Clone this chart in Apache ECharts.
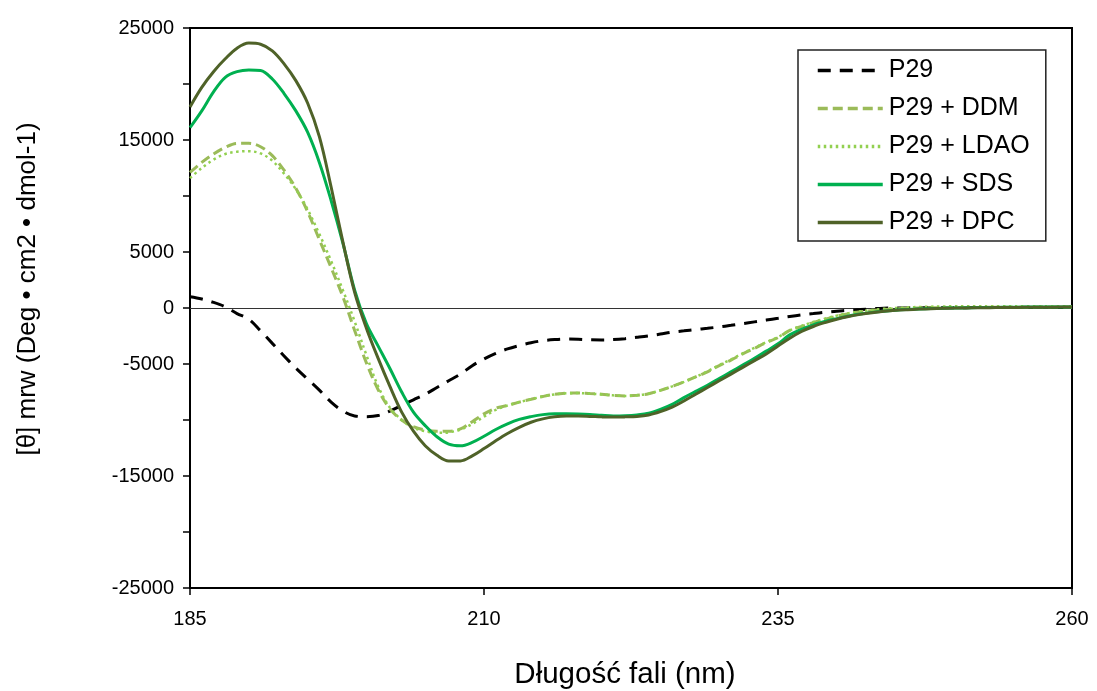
<!DOCTYPE html>
<html>
<head>
<meta charset="utf-8">
<script src="https://cdn.jsdelivr.net/npm/echarts@6/dist/echarts.min.js"></script>
<style>
  html, body { margin: 0; padding: 0; background: #fff; }
  #chart { width: 1097px; height: 691px; }
</style>
</head>
<body>
<div id="chart"></div>
<script>
// Wavelengths (nm), 1 nm steps
const wavelengths = [
  185,186,187,188,189,190,191,192,193,194,195,196,197,198,199,200,
  201,202,203,204,205,206,207,208,209,210,211,212,213,214,215,216,
  217,218,219,220,221,222,223,224,225,226,227,228,229,230,231,232,
  233,234,235,236,237,238,239,240,241,242,243,244,245,246,247,248,
  249,250,251,252,253,254,255,256,257,258,259,260
];

// Mean residue ellipticity for each sample
const p29 = [
  1000,800,500,100,-500,-1000,-2040,-3160,-4280,-5370,-6350,-7330,-8400,-9200,-9640,-9700,
  -9600,-9200,-8700,-8200,-7700,-7100,-6500,-5900,-5150,-4550,-4050,-3650,-3350,-3100,-2920,-2820,
  -2770,-2790,-2840,-2850,-2820,-2740,-2620,-2490,-2330,-2160,-2040,-1920,-1810,-1690,-1550,-1400,
  -1240,-1080,-920,-760,-620,-500,-380,-280,-200,-140,-70,-20,0,10,20,20,
  30,30,30,40,40,40,40,50,50,50,50,50
];

const p29DDM = [
  12100,13000,13750,14350,14700,14700,14400,13600,12300,10700,8600,6100,3600,1000,-2000,-4900,
  -7300,-9000,-10000,-10600,-10900,-11000,-11000,-10800,-10150,-9450,-8950,-8700,-8400,-8150,-7900,-7700,
  -7600,-7580,-7640,-7700,-7800,-7850,-7800,-7650,-7350,-7000,-6600,-6150,-5700,-5150,-4650,-4100,
  -3600,-3100,-2650,-2000,-1650,-1300,-1000,-720,-500,-340,-230,-140,-70,-20,0,20,
  30,40,50,50,60,60,70,70,80,80,80,80
];

const p29LDAO = [
  11600,12500,13250,13750,13950,14000,13800,13150,12000,10600,8800,6600,4200,1600,-1200,-4200,
  -7000,-8900,-10000,-10700,-11000,-11150,-11100,-10850,-10350,-9700,-9100,-8700,-8400,-8150,-7900,-7720,
  -7620,-7600,-7650,-7720,-7800,-7850,-7800,-7650,-7350,-7000,-6600,-6150,-5650,-5100,-4600,-4050,
  -3550,-3050,-2600,-2000,-1600,-1250,-950,-680,-460,-300,-170,-70,0,50,90,120,
  140,150,150,150,150,150,150,150,150,150,150,150
];

const p29SDS = [
  16100,17600,19300,20600,21100,21250,21200,20450,19150,17600,15700,13000,9600,5800,1600,-1400,
  -3400,-5400,-7500,-9300,-10500,-11500,-12150,-12300,-12000,-11450,-10850,-10350,-9950,-9700,-9520,-9450,
  -9450,-9460,-9500,-9580,-9640,-9620,-9550,-9400,-9050,-8600,-8000,-7450,-6900,-6300,-5700,-5100,
  -4500,-3850,-3200,-2400,-1900,-1500,-1200,-950,-720,-540,-390,-280,-200,-140,-90,-50,
  -20,0,20,40,50,60,70,80,90,90,100,100
];

const p29DPC = [
  17950,19700,21100,22250,23200,23650,23550,22950,21800,20300,18300,15300,10800,5900,1400,-1800,
  -4500,-7000,-9300,-11000,-12300,-13150,-13650,-13650,-13200,-12550,-11850,-11200,-10650,-10200,-9900,-9720,
  -9650,-9650,-9680,-9720,-9740,-9720,-9680,-9550,-9250,-8850,-8300,-7700,-7100,-6500,-5900,-5300,
  -4700,-4100,-3400,-2700,-2100,-1650,-1300,-1000,-760,-570,-420,-300,-210,-150,-100,-60,
  -30,-10,10,20,30,40,50,60,60,70,80,80
];

// Y tick values that carry a label
const yLabelled = [25000, 15000, 5000, 0, -5000, -15000, -25000];

const seriesNames = ['P29', 'P29 + DDM', 'P29 + LDAO', 'P29 + SDS', 'P29 + DPC'];
const seriesValues = [p29, p29DDM, p29LDAO, p29SDS, p29DPC];
const seriesStyles = [
  { color: '#000000', width: 3, type: [13, 9] },
  { color: '#9BBB59', width: 3, type: [10, 5] },
  { color: '#92D050', width: 2.5, type: [2.5, 3.5] },
  { color: '#00B050', width: 3, type: 'solid' },
  { color: '#4F6228', width: 3, type: 'solid' }
];

const FONT = '"Liberation Sans", Arial, sans-serif';

const series = seriesNames.map((name, i) => {
  const s = {
    name: name,
    type: 'line',
    data: wavelengths.map((w, j) => [w, seriesValues[i][j]]),
    showSymbol: false,
    symbol: 'none',
    smooth: 0.35,
    color: seriesStyles[i].color,
    lineStyle: {
      color: seriesStyles[i].color,
      width: seriesStyles[i].width,
      type: seriesStyles[i].type
    },
    emphasis: { disabled: true },
    z: 3 + i
  };
  if (i === 0) {
    // zero baseline
    s.markLine = {
      silent: true,
      symbol: 'none',
      label: { show: false },
      lineStyle: { color: '#333', width: 1, type: 'solid' },
      data: [{ yAxis: 0 }],
      z: 1
    };
  }
  return s;
});

const chart = echarts.init(document.getElementById('chart'), null, { renderer: 'canvas' });

chart.setOption({
  animation: false,
  backgroundColor: '#ffffff',
  textStyle: { fontFamily: FONT },
  grid: {
    left: 190, right: 25, top: 28, bottom: 103,
    outerBoundsMode: 'none',
    containLabel: false,
    show: true, borderColor: '#000', borderWidth: 2, backgroundColor: 'transparent'
  },
  xAxis: {
    type: 'value',
    min: 185, max: 260, interval: 25,
    name: 'Długość fali (nm)',
    nameLocation: 'middle',
    nameGap: 72,
    nameTextStyle: { fontSize: 29.5, color: '#000', fontFamily: FONT, padding: [0, 12, 0, 0] },
    axisLine: { show: true, onZero: false, lineStyle: { color: '#000', width: 2 } },
    axisTick: { show: true, inside: false, length: 7, lineStyle: { color: '#000', width: 1.5 } },
    axisLabel: { fontSize: 20, color: '#000', margin: 21, fontFamily: FONT },
    splitLine: { show: false }
  },
  yAxis: {
    type: 'value',
    min: -25000, max: 25000, interval: 5000,
    axisLine: { show: true, onZero: false, lineStyle: { color: '#000', width: 2 } },
    axisTick: { show: true, inside: false, length: 7, lineStyle: { color: '#000', width: 1.5 } },
    axisLabel: {
      fontSize: 20, color: '#000', margin: 16, fontFamily: FONT,
      formatter: v => (yLabelled.indexOf(v) >= 0 ? String(v) : '')
    },
    splitLine: { show: false }
  },
  legend: {
    orient: 'vertical',
    left: 798, top: 50,
    padding: [8, 16, 6, 18],
    itemWidth: 65, itemHeight: 22, itemGap: 13,
    borderColor: '#222', borderWidth: 1.5,
    backgroundColor: '#fff',
    itemStyle: { opacity: 0 },
    lineStyle: { width: 3.5 },
    textStyle: { fontSize: 25, color: '#000', fontFamily: FONT, padding: [0, 0, 0, 1] },
    selectedMode: false,
    data: seriesNames
  },
  graphic: [{
    type: 'text',
    rotation: Math.PI / 2,
    x: 28, y: 289,
    style: {
      text: '[θ] mrw (Deg • cm2 • dmol-1)',
      fontSize: 26, fill: '#000', fontFamily: FONT,
      align: 'center', verticalAlign: 'middle'
    }
  }],
  series: series
});
</script>
</body>
</html>
